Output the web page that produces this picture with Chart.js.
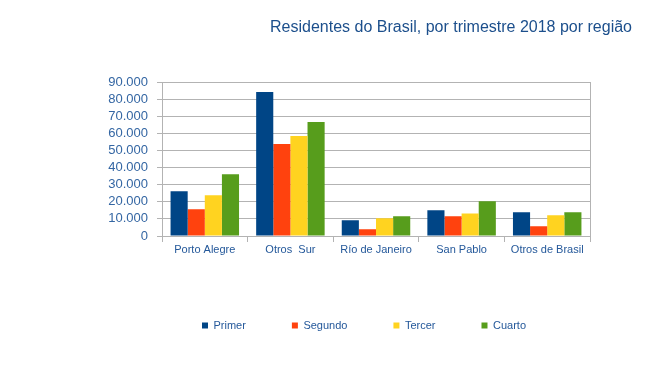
<!DOCTYPE html>
<html>
<head>
<meta charset="utf-8">
<script src="https://cdn.jsdelivr.net/npm/chart.js@4.4.1/dist/chart.umd.min.js"></script>
<style>
  html, body { margin: 0; padding: 0; background: #fff; }
  #wrap { width: 657px; height: 381px; }
</style>
</head>
<body>
<div id="wrap"><canvas id="chart"></canvas></div>
<script>
// data
const regions = ["Porto Alegre", "Otros  Sur", "Río de Janeiro", "San Pablo", "Otros de Brasil"];
const primer  = [26200, 84300, 9200, 15100, 13900];
const segundo = [15700, 53800, 3900, 11500, 5700];
const tercer  = [23900, 58500, 10400, 13200, 12100];
const cuarto  = [36200, 66700, 11500, 20300, 13900];
const yTicks = [0, 10000, 20000, 30000, 40000, 50000, 60000, 70000, 80000, 90000];

const textBlue = "#24589a";
const tickBlue = "#3466a3";
const gridGray = "#b3b3b3";

function fmt(v) {
    // 90000 -> 90.000
    return String(v).replace(/\B(?=(\d{3})+(?!\d))/g, ".");
}

const ctx = document.getElementById("chart").getContext("2d");
new Chart(ctx, {
    type: "bar",
    data: {
        labels: regions,
        datasets: [
            {label: "Primer", data: primer, backgroundColor: "#004586"},
            {label: "Segundo", data: segundo, backgroundColor: "#ff420e"},
            {label: "Tercer", data: tercer, backgroundColor: "#ffd320"},
            {label: "Cuarto", data: cuarto, backgroundColor: "#579d1c"}
        ]
    },
    options: {
        responsive: true,
        maintainAspectRatio: false,
        animation: false,
        categoryPercentage: 0.8,
        barPercentage: 1.0,
        layout: {padding: {left: 96, right: 25, top: 0, bottom: 40}},
        plugins: {
            tooltip: {enabled: false},
            title: {
                display: true,
                text: "Residentes do Brasil, por trimestre 2018 por região",
                align: "end",
                color: "#1c4f8c",
                font: {family: "'Liberation Sans', Arial, sans-serif", size: 16, weight: "normal"},
                padding: {top: 18, bottom: 45}
            },
            legend: {
                position: "bottom",
                labels: {
                    boxWidth: 6,
                    boxHeight: 6,
                    padding: 46,
                    color: textBlue,
                    font: {family: "'Liberation Sans', Arial, sans-serif", size: 11}
                }
            }
        },
        scales: {
            x: {
                grid: {display: true, drawOnChartArea: false, drawTicks: true, tickLength: 6, offset: true, color: gridGray},
                border: {display: true, color: gridGray},
                ticks: {color: textBlue, padding: 1, autoSkip: false, maxRotation: 0, font: {family: "'Liberation Sans', Arial, sans-serif", size: 11}},
                afterFit: function (axis) { axis.height = 38; }
            },
            y: {
                min: 0,
                max: 90000,
                afterBuildTicks: function (axis) { axis.ticks = yTicks.map(v => ({value: v})); },
                grid: {color: gridGray, tickLength: 5},
                border: {display: true, color: gridGray},
                ticks: {
                    color: tickBlue,
                    padding: 9,
                    autoSkip: false,
                    font: {family: "'Liberation Sans', Arial, sans-serif", size: 13},
                    callback: function (v) { return fmt(v); }
                },
                afterFit: function (axis) { axis.width = 66; }
            },
            y2: {
                position: "right",
                min: 0,
                max: 90000,
                grid: {display: false},
                border: {display: true, color: gridGray},
                ticks: {display: false},
                afterFit: function (axis) { axis.width = 42; }
            }
        }
    }
});
</script>
</body>
</html>
